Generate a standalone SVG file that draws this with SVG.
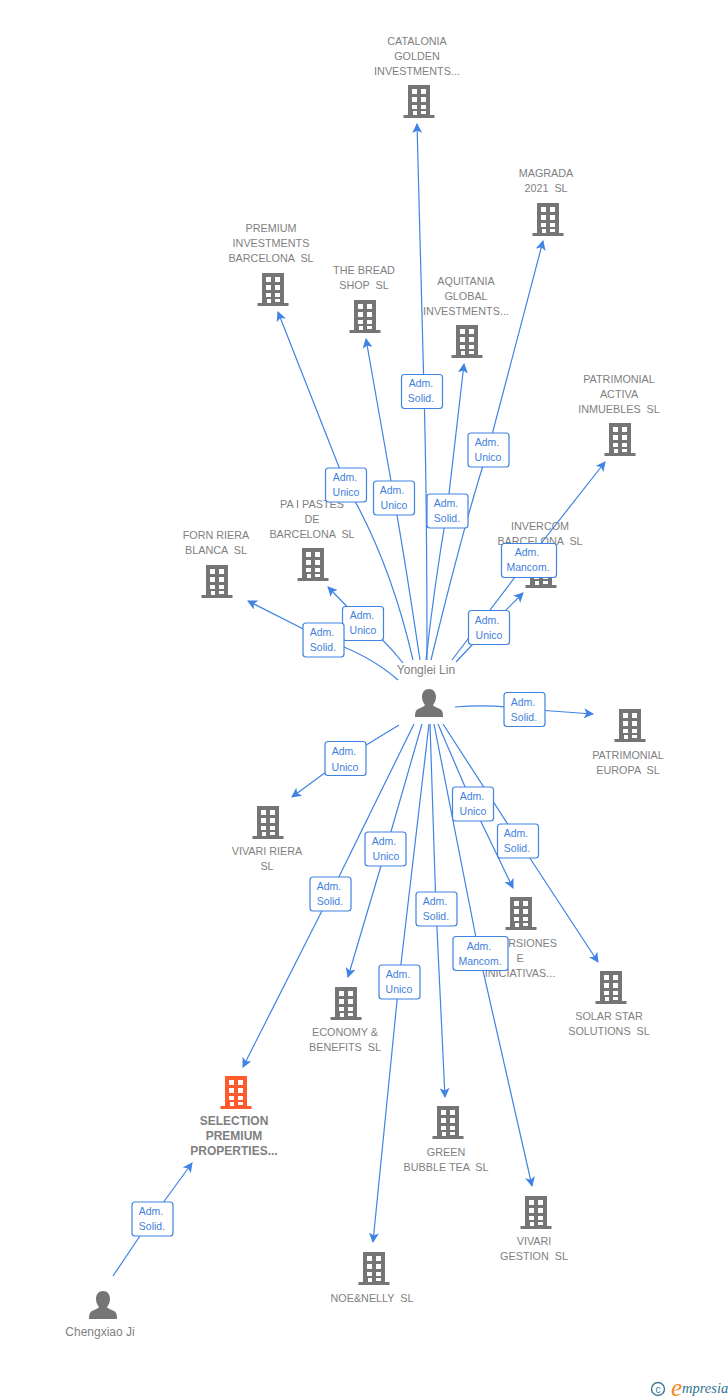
<svg xmlns="http://www.w3.org/2000/svg" width="728" height="1400" viewBox="0 0 728 1400">
<style>
text{font-family:"Liberation Sans",Arial,sans-serif}
.n{font-size:10.8px;fill:#7f7f7f;text-anchor:middle;white-space:pre}
.m{font-size:12px;fill:#7f7f7f;text-anchor:middle;font-weight:bold}
.p{font-size:12px;fill:#7f7f7f;text-anchor:middle}
.e{fill:none;stroke:#3f83e3;stroke-width:1.2;marker-end:url(#a)}
.b{fill:#fff;stroke:#3f83e3;stroke-width:1.2}
.l{font-size:10.5px;fill:#3f7fdc;text-anchor:middle}
</style>
<defs>
<marker id="a" markerUnits="userSpaceOnUse" markerWidth="11" markerHeight="10" refX="9" refY="5" orient="auto"><path d="M0 0L10 5L0 10L2.5 5Z" fill="#3f83e3"/></marker>
<g id="bd"><path fill-rule="evenodd" d="M-11 0H11V30H15.500V33H-15.500V30H-11ZM-7 4V9H-2V4ZM2 4V9H7V4ZM-7 12V17H-2V12ZM2 12V17H7V12ZM-7 20V24H-2V20ZM2 20V24H7V20ZM-6 26V30H-2V26ZM2 26V29H7V26Z"/></g>
<path id="pn" d="M0 0C4.500 0 7 3.500 7 8C7 11.500 5.500 14 4 16C4.500 17.500 8 18.500 11 20C13 21 14 23 14 28H-14C-14 23 -13 21 -11 20C-8 18.500 -4.500 17.500 -4 16C-5.500 14 -7 11.500 -7 8C-7 3.500 -4.500 0 0 0Z"/>
</defs>
<rect width="728" height="1400" fill="#fff"/>
<g id="nodes" fill="#757575">
<g id="n-catalonia"><use href="#bd" x="419" y="85"/><text class="n" x="417" y="45">CATALONIA</text><text class="n" x="417" y="60">GOLDEN</text><text class="n" x="417" y="75">INVESTMENTS...</text></g>
<g id="n-magrada"><use href="#bd" x="548" y="203"/><text class="n" x="546" y="177">MAGRADA</text><text class="n" x="546" y="192">2021  SL</text></g>
<g id="n-premium"><use href="#bd" x="273" y="273"/><text class="n" x="271" y="232">PREMIUM</text><text class="n" x="271" y="247">INVESTMENTS</text><text class="n" x="271" y="262">BARCELONA  SL</text></g>
<g id="n-bread"><use href="#bd" x="365" y="300"/><text class="n" x="364" y="274">THE BREAD</text><text class="n" x="364" y="289">SHOP  SL</text></g>
<g id="n-aquitania"><use href="#bd" x="467" y="325"/><text class="n" x="466" y="285">AQUITANIA</text><text class="n" x="466" y="300">GLOBAL</text><text class="n" x="466" y="315">INVESTMENTS...</text></g>
<g id="n-activa"><use href="#bd" x="620" y="423"/><text class="n" x="619" y="383">PATRIMONIAL</text><text class="n" x="619" y="398">ACTIVA</text><text class="n" x="619" y="413">INMUEBLES  SL</text></g>
<g id="n-invercom"><use href="#bd" x="541" y="555"/><text class="n" x="540" y="530">INVERCOM</text><text class="n" x="540" y="545">BARCELONA  SL</text></g>
<g id="n-pastes"><use href="#bd" x="313" y="548"/><text class="n" x="312" y="508">PA I PASTES</text><text class="n" x="312" y="523">DE</text><text class="n" x="312" y="538">BARCELONA  SL</text></g>
<g id="n-forn"><use href="#bd" x="217" y="565"/><text class="n" x="216" y="539">FORN RIERA</text><text class="n" x="216" y="554">BLANCA  SL</text></g>
<g id="n-europa"><use href="#bd" x="630" y="709"/><text class="n" x="628" y="759">PATRIMONIAL</text><text class="n" x="628" y="774">EUROPA  SL</text></g>
<g id="n-vriera"><use href="#bd" x="268" y="806"/><text class="n" x="267" y="855">VIVARI RIERA</text><text class="n" x="267" y="870">SL</text></g>
<g id="n-inversiones"><use href="#bd" x="521" y="897"/><text class="n" x="520" y="947">INVERSIONES</text><text class="n" x="520" y="962">E</text><text class="n" x="520" y="977">INICIATIVAS...</text></g>
<g id="n-solar"><use href="#bd" x="611" y="971"/><text class="n" x="609" y="1020">SOLAR STAR</text><text class="n" x="609" y="1035">SOLUTIONS  SL</text></g>
<g id="n-economy"><use href="#bd" x="346" y="987"/><text class="n" x="345" y="1036">ECONOMY &amp;</text><text class="n" x="345" y="1051">BENEFITS  SL</text></g>
<g id="n-selection"><use href="#bd" x="236" y="1076" fill="#ff5a2b"/><text class="m" x="234" y="1125">SELECTION</text><text class="m" x="234" y="1140">PREMIUM</text><text class="m" x="234" y="1155">PROPERTIES...</text></g>
<g id="n-green"><use href="#bd" x="448" y="1106"/><text class="n" x="446" y="1156">GREEN</text><text class="n" x="446" y="1171">BUBBLE TEA  SL</text></g>
<g id="n-gestion"><use href="#bd" x="536" y="1196"/><text class="n" x="534" y="1245">VIVARI</text><text class="n" x="534" y="1260">GESTION  SL</text></g>
<g id="n-noe"><use href="#bd" x="374" y="1252"/><text class="n" x="372" y="1302">NOE&amp;NELLY  SL</text></g>
<g id="n-yonglei"><use href="#pn" x="429" y="689"/><text class="p" x="426" y="674">Yonglei Lin</text></g>
<g id="n-chengxiao"><use href="#pn" x="103" y="1291"/><text class="p" x="100" y="1336">Chengxiao Ji</text></g>
</g>
<g id="connectors">
<path class="e" d="M427 660Q427 500 424 391L417 124"/>
<path class="e" d="M431 660Q465 520 488 450L543 241"/>
<path class="e" d="M413 660Q390 560 346 485L278 312"/>
<path class="e" d="M420 660Q405 560 394 498L366 339"/>
<path class="e" d="M426 660Q435 580 447 511L464 364"/>
<path class="e" d="M452 660L528 560L605 462"/>
<path class="e" d="M456 662L489 627L523 593"/>
<path class="e" d="M403 663Q385 640 363 623L328 587"/>
<path class="e" d="M398 680Q370 655 323 639L248 601"/>
<path class="e" d="M455 707Q490 704 524 709L593 714"/>
<path class="e" d="M399 725L345 758L292 797"/>
<path class="e" d="M422 724L386 849L348 977"/>
<path class="e" d="M414 724L331 893L243 1067"/>
<path class="e" d="M429 724L399 981L373 1242"/>
<path class="e" d="M430 724L436 908L445 1097"/>
<path class="e" d="M434 724L479 953L532 1186"/>
<path class="e" d="M438 724L472 803L513 888"/>
<path class="e" d="M443 724L518 840L598 962"/>
<path class="e" d="M113 1276L152 1218L192 1163"/>
<g id="labels">
<rect class="b" x="401.500" y="374.500" width="41" height="34" rx="3"/><text class="l" x="421" y="387">Adm.</text><text class="l" x="421" y="402">Solid.</text>
<rect class="b" x="468" y="433" width="41" height="34" rx="3"/><text class="l" x="487" y="446">Adm.</text><text class="l" x="488" y="461">Unico</text>
<rect class="b" x="325.500" y="468" width="41" height="34" rx="3"/><text class="l" x="345" y="481">Adm.</text><text class="l" x="346" y="496">Unico</text>
<rect class="b" x="373.500" y="481" width="41" height="34" rx="3"/><text class="l" x="392" y="494">Adm.</text><text class="l" x="394" y="509">Unico</text>
<rect class="b" x="427" y="494" width="41" height="34" rx="3"/><text class="l" x="446" y="507">Adm.</text><text class="l" x="447" y="522">Solid.</text>
<rect class="b" x="501.500" y="543.500" width="55" height="34" rx="3"/><text class="l" x="527" y="556">Adm.</text><text class="l" x="528" y="571">Mancom.</text>
<rect class="b" x="468.500" y="610.500" width="41" height="34" rx="3"/><text class="l" x="487" y="624">Adm.</text><text class="l" x="489" y="639">Unico</text>
<rect class="b" x="342.500" y="606.500" width="41" height="34" rx="3"/><text class="l" x="362" y="619">Adm.</text><text class="l" x="363" y="634">Unico</text>
<rect class="b" x="303" y="623" width="41" height="34" rx="3"/><text class="l" x="322" y="636">Adm.</text><text class="l" x="323" y="651">Solid.</text>
<rect class="b" x="504" y="692.500" width="41" height="34" rx="3"/><text class="l" x="523" y="706">Adm.</text><text class="l" x="524" y="721">Solid.</text>
<rect class="b" x="325" y="741.500" width="41" height="34" rx="3"/><text class="l" x="344" y="755">Adm.</text><text class="l" x="345" y="771">Unico</text>
<rect class="b" x="452.500" y="787" width="41" height="34" rx="3"/><text class="l" x="472" y="800">Adm.</text><text class="l" x="473" y="815">Unico</text>
<rect class="b" x="497.500" y="824" width="41" height="34" rx="3"/><text class="l" x="516" y="837">Adm.</text><text class="l" x="517" y="852">Solid.</text>
<rect class="b" x="365" y="832" width="41" height="34" rx="3"/><text class="l" x="384" y="845">Adm.</text><text class="l" x="386" y="860">Unico</text>
<rect class="b" x="310" y="877" width="41" height="34" rx="3"/><text class="l" x="329" y="890">Adm.</text><text class="l" x="330" y="905">Solid.</text>
<rect class="b" x="416" y="892" width="41" height="34" rx="3"/><text class="l" x="435" y="905">Adm.</text><text class="l" x="436" y="920">Solid.</text>
<rect class="b" x="453" y="936.500" width="55" height="34" rx="3"/><text class="l" x="479" y="950">Adm.</text><text class="l" x="480" y="965">Mancom.</text>
<rect class="b" x="379" y="965" width="41" height="34" rx="3"/><text class="l" x="398" y="978">Adm.</text><text class="l" x="399" y="993">Unico</text>
<rect class="b" x="132" y="1202" width="41" height="34" rx="3"/><text class="l" x="151" y="1215">Adm.</text><text class="l" x="152" y="1230">Solid.</text>
</g>
</g>
<g id="logo">
<circle cx="658" cy="1389" r="6.500" fill="none" stroke="#3f7a94" stroke-width="1.400"/>
<text x="658" y="1392.500" font-size="10" text-anchor="middle" fill="#3f7a94">c</text>
<text x="671" y="1396" font-size="25" font-style="italic" fill="#f08a1d" style="font-family:'Liberation Serif',serif">e</text>
<text x="682" y="1393" font-size="14.500" font-style="italic" fill="#2f7390" style="font-family:'Liberation Serif',serif">mpresia</text>
</g>
</svg>
